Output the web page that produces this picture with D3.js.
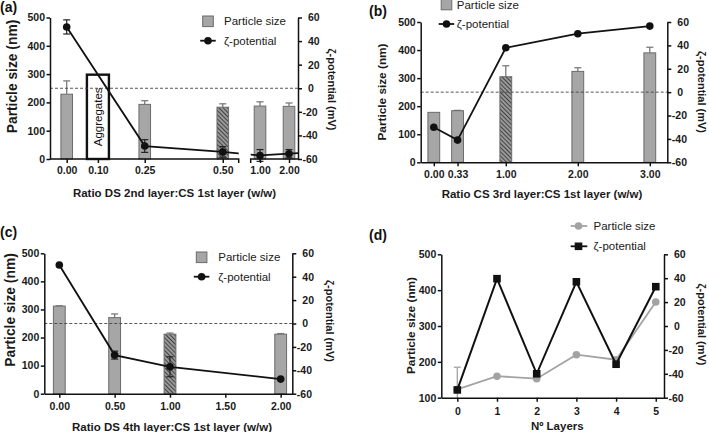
<!DOCTYPE html>
<html><head><meta charset="utf-8">
<script src="https://cdn.jsdelivr.net/npm/d3@7"></script>
<style>body{margin:0;background:#fff}</style>
</head><body>
<script>
// ---------- DATA ----------
// Panel (a)
const aLabels = ["0.00","0.10","0.25","0.50","1.00","2.00"];
const aX = [0, 0.10, 0.25, 0.50, 1.00, 2.00];
const aSize = [229, null, 193, 183, 187, 186];
const aSizeErr = [47, null, 13, 12, 15, 12];
const aZeta = [52, null, -49, -54, -57, -55.5];
const aZetaErr = [6, null, 5.4, 4.5, 5, 3.5];
const aHatch = [0, 0, 0, 1, 0, 0];
const aAggX = 0.10, aAggValue = 298, aAggLabel = "Aggregates";
// Panel (b)
const bLabels = ["0.00","0.33","1.00","2.00","3.00"];
const bX = [0, 0.33, 1, 2, 3];
const bSize = [178, 184, 305, 324, 390];
const bSizeErr = [0, 1, 39, 13, 20];
const bZeta = [-30, -41, 38, 50, 56.5];
const bHatch = [0, 0, 1, 0, 0];
// Panel (c)
const cTickLabels = ["0.00","0.50","1.00","1.50","2.00"];
const cTicks = [0, 0.5, 1, 1.5, 2];
const cX = [0, 0.5, 1, 2];
const cSize = [312, 271, 212, 212];
const cSizeErr = [1, 13, 4, 2];
const cZeta = [50, -27, -37, -47.5];
const cZetaErr = [0, 3.4, 8.5, 0];
const cHatch = [0, 0, 1, 0];
// Panel (d)
const dX = [0, 1, 2, 3, 4, 5];
const dSize = [123, 160, 153, 220, 206, 367];
const dSizeErr = [62, 0, 0, 0, 0, 0];
const dZeta = [-53.5, 39.6, -40, 37, -32, 32.9];
// Ticks
const sizeTicks = [0, 100, 200, 300, 400, 500];
const dSizeTicks = [100, 200, 300, 400, 500];
const zetaTicks = [-60, -40, -20, 0, 20, 40, 60];

// ---------- SETUP ----------
const W = 709, H = 432;
const FONT = "'Liberation Sans', Arial, Helvetica, sans-serif";
const BAR_FILL = "#a6a6a6", BAR_STROKE = "#6b6b6b", ERR_GRAY = "#7a7a7a";
const svg = d3.select("body").append("svg").attr("width", W).attr("height", H)
  .style("font-family", FONT);
const defs = svg.append("defs");
const pat = defs.append("pattern").attr("id", "hatch").attr("patternUnits", "userSpaceOnUse")
  .attr("width", 3).attr("height", 3).attr("patternTransform", "rotate(-45)");
pat.append("rect").attr("width", 3).attr("height", 3).attr("fill", "#9a9a9a");
pat.append("line").attr("x1", 0.5).attr("y1", 0).attr("x2", 0.5).attr("y2", 3)
  .attr("stroke", "#444").attr("stroke-width", 1.1);

function styleAxis(g) {
  g.selectAll("path.domain").attr("stroke", "#111").attr("stroke-width", 1.5);
  g.selectAll(".tick line").attr("stroke", "#111").attr("stroke-width", 1.5);
  g.selectAll(".tick text").attr("font-family", FONT).attr("font-size", 10.5)
    .attr("font-weight", "bold").attr("fill", "#1a1a1a");
}
function leftAxis(scale, x, ticks) {
  const g = svg.append("g").attr("transform", `translate(${x},0)`)
    .call(d3.axisLeft(scale).tickValues(ticks).tickSize(3.5).tickSizeOuter(0).tickPadding(1.5).tickFormat(d => String(d)));
  styleAxis(g);
}
function rightAxis(scale, x, ticks) {
  const g = svg.append("g").attr("transform", `translate(${x},0)`)
    .call(d3.axisRight(scale).tickValues(ticks).tickSize(4).tickSizeOuter(0).tickPadding(6).tickFormat(d => String(d)));
  styleAxis(g);
  g.selectAll(".tick text").attr("x", d => d < 0 ? 4.5 : 10);
}
function bottomAxis(scale, y, ticks, labels, pad) {
  const g = svg.append("g").attr("transform", `translate(0,${y})`)
    .call(d3.axisBottom(scale).tickValues(ticks).tickSize(4).tickSizeOuter(0).tickPadding(pad)
      .tickFormat((d, i) => labels[i]));
  styleAxis(g);
  return g;
}
function yTitles(xl, ycl, fsl, xr, ycr, leftText, rightText) {
  svg.append("text").attr("transform", `translate(${xl},${ycl}) rotate(-90)`)
    .attr("text-anchor", "middle").attr("dominant-baseline", "central")
    .attr("font-size", fsl).attr("font-weight", "bold").attr("fill", "#1a1a1a").text(leftText);
  svg.append("text").attr("transform", `translate(${xr},${ycr}) rotate(90)`)
    .attr("text-anchor", "middle").attr("dominant-baseline", "central")
    .attr("font-size", 11).attr("font-weight", "bold").attr("fill", "#1a1a1a").text(rightText);
}
function xTitle(xc, yc, text) {
  svg.append("text").attr("x", xc).attr("y", yc).attr("text-anchor", "middle")
    .attr("dominant-baseline", "central").attr("font-size", 11.5).attr("font-weight", "bold")
    .attr("fill", "#1a1a1a").text(text);
}
function panelLabel(x, y, t) {
  svg.append("text").attr("x", x).attr("y", y).attr("font-size", 14).attr("font-weight", "bold")
    .attr("fill", "#111").text(t);
}
function bars(xs, ys, X, S, E, hatch, bw) {
  X.forEach((x, i) => {
    if (S[i] == null) return;
    const cx = xs(x);
    if (E[i] > 0) {
      const y1 = ys(S[i]), y2 = ys(S[i] + E[i]);
      svg.append("line").attr("x1", cx).attr("x2", cx).attr("y1", y1).attr("y2", y2)
        .attr("stroke", ERR_GRAY).attr("stroke-width", 1.3);
      svg.append("line").attr("x1", cx - 3.5).attr("x2", cx + 3.5).attr("y1", y2).attr("y2", y2)
        .attr("stroke", ERR_GRAY).attr("stroke-width", 1.3);
    }
    svg.append("rect").attr("x", cx - bw / 2).attr("y", ys(S[i]))
      .attr("width", bw).attr("height", ys(0) - ys(S[i]))
      .attr("fill", hatch[i] ? "url(#hatch)" : BAR_FILL).attr("stroke", BAR_STROKE).attr("stroke-width", 1);
  });
}
function zeroLine(zs, x0, x1) {
  svg.append("line").attr("x1", x0).attr("x2", x1).attr("y1", zs(0)).attr("y2", zs(0))
    .attr("stroke", "#444").attr("stroke-width", 0.9).attr("stroke-dasharray", "3,2");
}
function zetaSeries(xs, zs, X, Z, E, clipId, extendTo) {
  const pts = X.map((x, i) => [x, Z[i], E ? E[i] : 0]).filter(p => p[1] != null);
  const px = pts.map(p => [xs(p[0]), zs(p[1])]);
  if (extendTo != null) {
    const a = px[px.length - 2], b = px[px.length - 1];
    const slope = (b[1] - a[1]) / (b[0] - a[0]);
    px.push([extendTo, b[1] + slope * (extendTo - b[0])]);
  }
  const path = svg.append("path").attr("d", d3.line()(px)).attr("fill", "none")
    .attr("stroke", "#111").attr("stroke-width", 1.8);
  if (clipId) path.attr("clip-path", `url(#${clipId})`);
  pts.forEach(p => {
    const cx = xs(p[0]), cy = zs(p[1]);
    if (p[2] > 0) {
      const t = zs(p[1] + p[2]), bt = zs(p[1] - p[2]);
      svg.append("line").attr("x1", cx).attr("x2", cx).attr("y1", t).attr("y2", bt)
        .attr("stroke", "#222").attr("stroke-width", 1.2);
      [t, bt].forEach(yy => svg.append("line").attr("x1", cx - 3.5).attr("x2", cx + 3.5)
        .attr("y1", yy).attr("y2", yy).attr("stroke", "#222").attr("stroke-width", 1.2));
    }
    svg.append("circle").attr("cx", cx).attr("cy", cy).attr("r", 3.8).attr("fill", "#111");
  });
}
function legendBarLine(x, y1, y2, textX) {
  svg.append("rect").attr("x", x).attr("y", y1 - 5.3).attr("width", 10.6).attr("height", 10.6)
    .attr("fill", BAR_FILL).attr("stroke", BAR_STROKE).attr("stroke-width", 1);
  svg.append("text").attr("x", textX).attr("y", y1).attr("dominant-baseline", "central")
    .attr("font-size", 11.5).attr("fill", "#1a1a1a").text("Particle size");
  svg.append("line").attr("x1", x - 2.5).attr("x2", x + 13).attr("y1", y2).attr("y2", y2)
    .attr("stroke", "#111").attr("stroke-width", 1.8);
  svg.append("circle").attr("cx", x + 5.3).attr("cy", y2).attr("r", 3.8).attr("fill", "#111");
  svg.append("text").attr("x", textX).attr("y", y2).attr("dominant-baseline", "central")
    .attr("font-size", 11.5).attr("fill", "#1a1a1a").text("ζ-potential");
}

// ---------- PANEL (a) ----------
{
  const L = 50, R = 298, T = 17.5, B = 159, BRK1 = 238.7, BRK2 = 250.7;
  const xs1 = d3.scaleLinear().domain([-0.0535, 0.551]).range([L, BRK1]);
  const xs2 = d3.scaleLinear().domain([0.679, 2.31]).range([BRK2, R]);
  const xa = x => x < 0.6 ? xs1(x) : xs2(x);
  const ys = d3.scaleLinear().domain([0, 500]).range([B, T]);
  const zs = d3.scaleLinear().domain([-60, 60]).range([B, T]);
  const clip = defs.append("clipPath").attr("id", "clipA");
  clip.append("rect").attr("x", L).attr("y", 0).attr("width", BRK1 - L).attr("height", 200);
  clip.append("rect").attr("x", BRK2).attr("y", 0).attr("width", R - BRK2).attr("height", 200);

  bars(xa, ys, aX, aSize, aSizeErr, aHatch, 11.6);
  svg.append("rect").attr("x", xa(aAggX) - 11).attr("y", ys(aAggValue))
    .attr("width", 22).attr("height", ys(0) - ys(aAggValue))
    .attr("fill", "#fff").attr("stroke", "#111").attr("stroke-width", 2.4);
  svg.append("text").attr("transform", `translate(${xa(aAggX)},${(ys(aAggValue) + ys(0)) / 2}) rotate(-90)`)
    .attr("text-anchor", "middle").attr("dominant-baseline", "central")
    .attr("font-size", 11.5).attr("fill", "#111").text(aAggLabel);
  zeroLine(zs, L, R);
  zetaSeries(xa, zs, aX, aZeta, aZetaErr, "clipA", R);

  leftAxis(ys, L, sizeTicks);
  rightAxis(zs, R, zetaTicks);
  const g1 = bottomAxis(xs1, B, aX.slice(0, 4), aLabels.slice(0, 4), 4);
  g1.select("path.domain").attr("d", `M${L},0H${BRK1}V4`);
  const g2 = bottomAxis(xs2, B, aX.slice(4), aLabels.slice(4), 4);
  g2.select("path.domain").attr("d", `M${BRK2},4V0H${R}`);

  legendBarLine(202.7, 21.3, 40.7, 224);
  yTitles(12, 76.5, 13.8, 331.5, 89.5, "Particle size (nm)", "ζ-potential (mV)");
  xTitle(174.5, 193, "Ratio DS 2nd layer:CS 1st layer (w/w)");
  panelLabel(0, 12, "(a)");
}

// ---------- PANEL (b) ----------
{
  const L = 420.7, R = 667.3, T = 22, B = 162.3;
  const xs = d3.scaleLinear().domain([-0.182, 3.243]).range([L, R]);
  const ys = d3.scaleLinear().domain([0, 500]).range([B, T]);
  const zs = d3.scaleLinear().domain([-60, 60]).range([B, T]);
  bars(xs, ys, bX, bSize, bSizeErr, bHatch, 11.8);
  zeroLine(zs, L, R);
  zetaSeries(xs, zs, bX, bZeta, null, null, null);
  leftAxis(ys, L, sizeTicks);
  rightAxis(zs, R, zetaTicks);
  bottomAxis(xs, B, bX, bLabels, 4.5);
  legendBarLine(441.2, 4.5, 24, 456.8);
  yTitles(381.7, 92, 11.8, 702, 92, "Particle size (nm)", "ζ-potential (mV)");
  xTitle(542, 193.5, "Ratio CS 3rd layer:CS 1st layer (w/w)");
  panelLabel(369, 16, "(b)");
}

// ---------- PANEL (c) ----------
{
  const L = 44.3, R = 292.3, T = 253.3, B = 393.7;
  const xs = d3.scaleLinear().domain([-0.1355, 2.105]).range([L, R]);
  const ys = d3.scaleLinear().domain([0, 500]).range([B, T]);
  const zs = d3.scaleLinear().domain([-60, 60]).range([B, T]);
  bars(xs, ys, cX, cSize, cSizeErr, cHatch, 11.8);
  zeroLine(zs, L, R);
  zetaSeries(xs, zs, cX, cZeta, cZetaErr, null, null);
  leftAxis(ys, L, sizeTicks);
  rightAxis(zs, R, zetaTicks);
  bottomAxis(xs, B, cTicks, cTickLabels, 4.5);
  legendBarLine(196.3, 257.3, 276.7, 218.3);
  yTitles(10.5, 310, 13.8, 330, 321, "Particle size (nm)", "ζ-potential (mV)");
  xTitle(172, 426.5, "Ratio DS 4th layer:CS 1st layer (w/w)");
  panelLabel(0, 237, "(c)");
}

// ---------- PANEL (d) ----------
{
  const L = 441.3, R = 664, T = 254.3, B = 397.7;
  const xs = d3.scaleLinear().domain([-0.403, 5.207]).range([L, R]);
  const ys = d3.scaleLinear().domain([100, 500]).range([B, T]);
  const zs = d3.scaleLinear().domain([-60, 60]).range([B, T]);
  const clipD = defs.append("clipPath").attr("id", "clipD");
  clipD.append("rect").attr("x", L).attr("y", T - 10).attr("width", R - L).attr("height", B - T + 10);
  const GRAY = "#a3a3a3";
  dX.forEach((x, i) => {
    if (dSizeErr[i] > 0) {
      const cx = xs(x), t = ys(dSize[i] + dSizeErr[i]);
      svg.append("line").attr("x1", cx).attr("x2", cx).attr("y1", t).attr("y2", ys(dSize[i] - dSizeErr[i]))
        .attr("stroke", GRAY).attr("stroke-width", 1.3).attr("clip-path", "url(#clipD)");
      svg.append("line").attr("x1", cx - 3.5).attr("x2", cx + 3.5).attr("y1", t).attr("y2", t)
        .attr("stroke", GRAY).attr("stroke-width", 1.3);
    }
  });
  svg.append("path").attr("d", d3.line().x(d => xs(d[0])).y(d => ys(d[1]))(dX.map((x, i) => [x, dSize[i]])))
    .attr("fill", "none").attr("stroke", GRAY).attr("stroke-width", 1.8);
  dX.forEach((x, i) => svg.append("circle").attr("cx", xs(x)).attr("cy", ys(dSize[i])).attr("r", 3.8).attr("fill", GRAY));
  svg.append("path").attr("d", d3.line().x(d => xs(d[0])).y(d => zs(d[1]))(dX.map((x, i) => [x, dZeta[i]])))
    .attr("fill", "none").attr("stroke", "#111").attr("stroke-width", 2);
  dX.forEach((x, i) => svg.append("rect").attr("x", xs(x) - 3.8).attr("y", zs(dZeta[i]) - 3.8)
    .attr("width", 7.6).attr("height", 7.6).attr("fill", "#111"));

  leftAxis(ys, L, dSizeTicks);
  rightAxis(zs, R, zetaTicks);
  bottomAxis(xs, B, dX, dX.map(String), 5.5);

  svg.append("line").attr("x1", 570.7).attr("x2", 587.3).attr("y1", 226).attr("y2", 226).attr("stroke", GRAY).attr("stroke-width", 1.8);
  svg.append("circle").attr("cx", 578.5).attr("cy", 226).attr("r", 3.8).attr("fill", GRAY);
  svg.append("text").attr("x", 593.5).attr("y", 226).attr("dominant-baseline", "central")
    .attr("font-size", 11.5).attr("fill", "#1a1a1a").text("Particle size");
  svg.append("line").attr("x1", 570.7).attr("x2", 587.3).attr("y1", 246.3).attr("y2", 246.3).attr("stroke", "#111").attr("stroke-width", 1.8);
  svg.append("rect").attr("x", 578.5 - 3.8).attr("y", 246.3 - 3.8).attr("width", 7.6).attr("height", 7.6).attr("fill", "#111");
  svg.append("text").attr("x", 593.5).attr("y", 246.3).attr("dominant-baseline", "central")
    .attr("font-size", 11.5).attr("fill", "#1a1a1a").text("ζ-potential");

  yTitles(410.7, 325.5, 11.8, 702, 324.5, "Particle size (nm)", "ζ-potential (mV)");
  xTitle(557.3, 426, "Nº Layers");
  panelLabel(369, 240, "(d)");
}
</script>
</body></html>
